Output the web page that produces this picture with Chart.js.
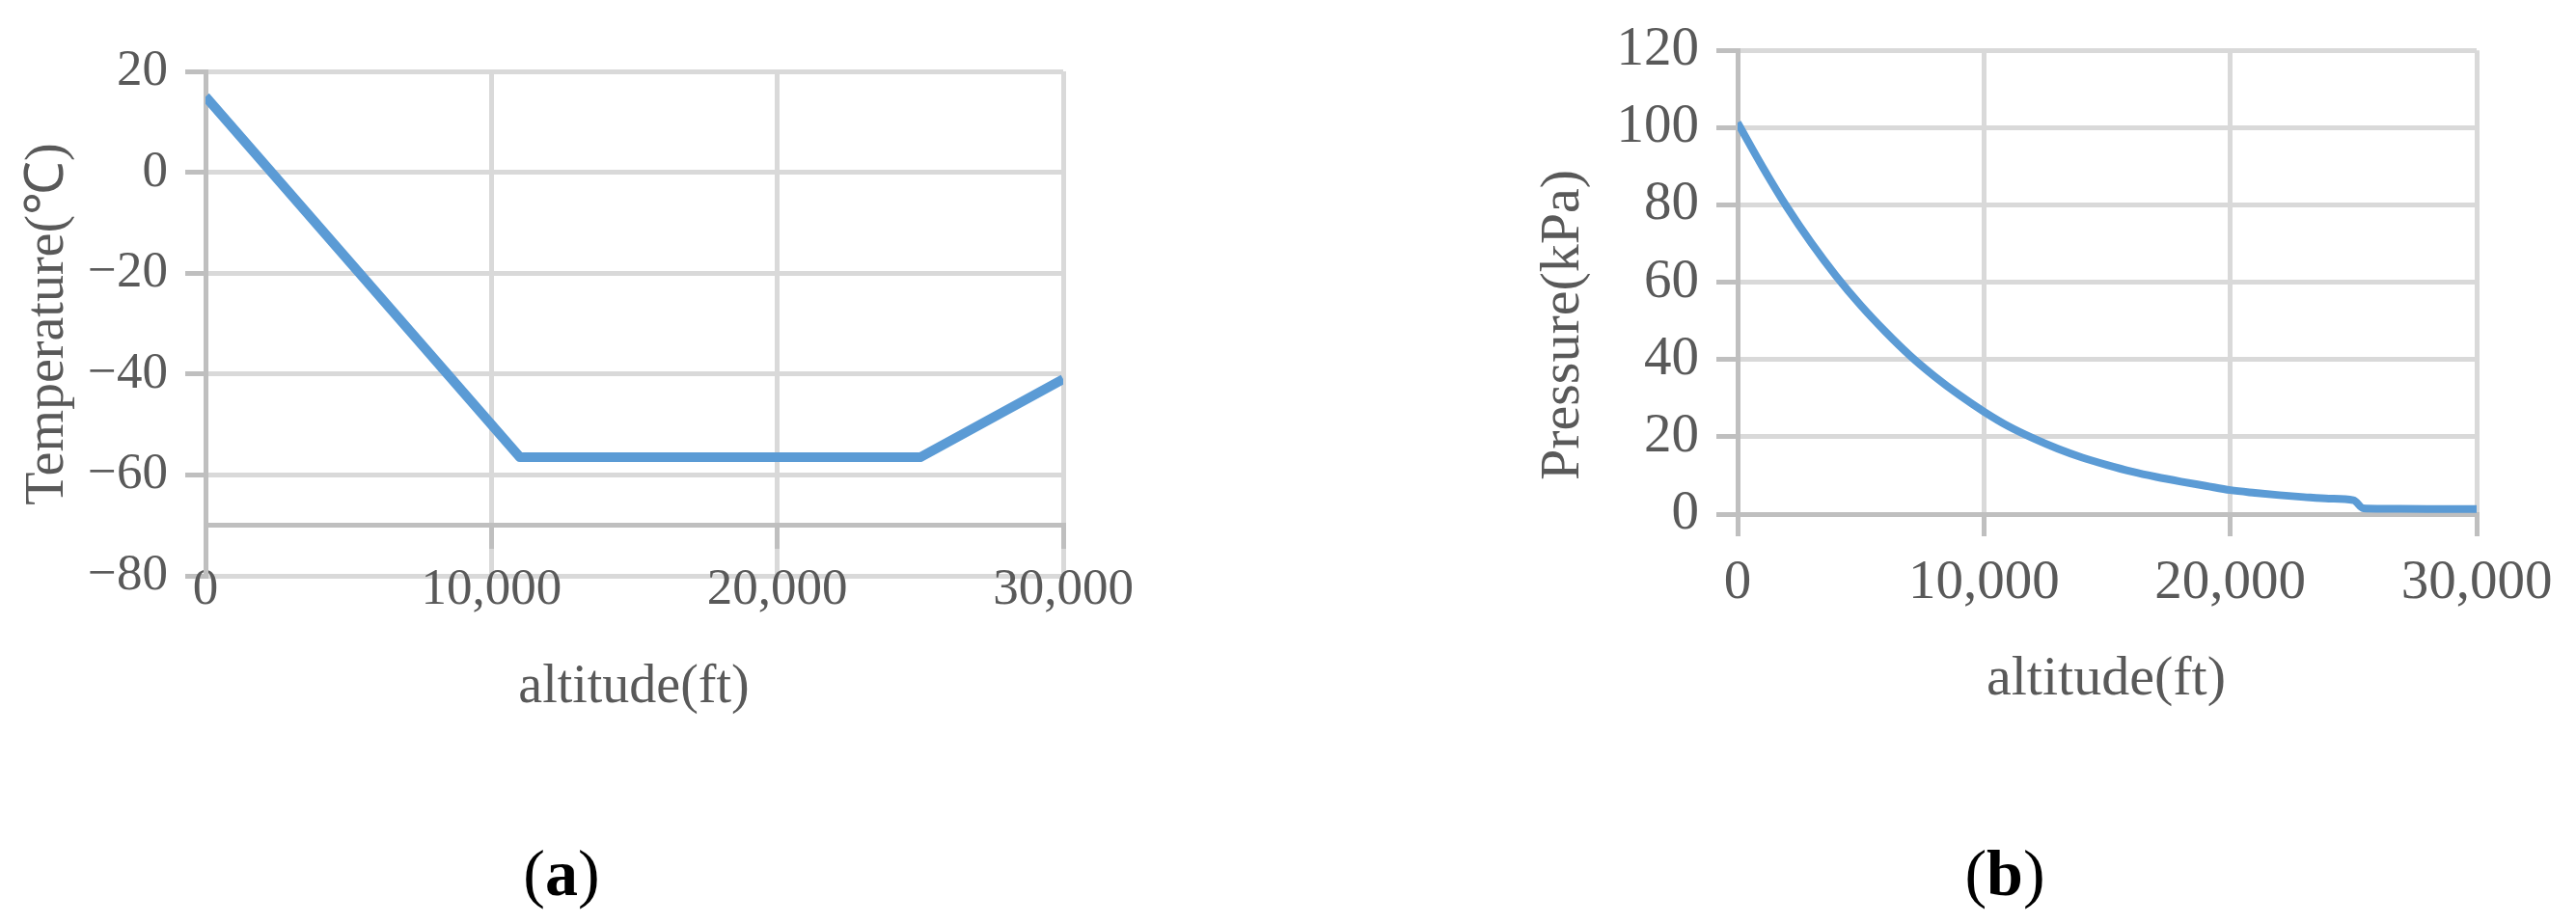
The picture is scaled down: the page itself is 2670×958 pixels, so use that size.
<!DOCTYPE html>
<html>
<head>
<meta charset="utf-8">
<script src="https://cdn.jsdelivr.net/npm/chart.js@4.4.1/dist/chart.umd.min.js"></script>
<style>
  body { margin: 0; background: #fff; width: 2670px; height: 958px; position: relative; overflow: hidden; font-family: 'Liberation Serif', serif; }
  canvas { position: absolute; top: 0; }
  #tempChart { left: 0; }
  #pressChart { left: 1335px; }
  .panel { position: absolute; top: 866px; font-size: 68px; line-height: 78px; color: #000; transform: translateX(-50%); white-space: nowrap; }
</style>
</head>
<body>
<canvas id="tempChart" width="1335" height="958"></canvas>
<canvas id="pressChart" width="1335" height="958"></canvas>
<div class="panel" style="left:582px">(<b>a</b>)</div>
<div class="panel" style="left:2078px">(<b>b</b>)</div>
<script>
// (a) temperature vs altitude
var tempAltitude = [0, 11000, 25000, 30000];
var temperature = [15, -56.5, -56.5, -41];

// (b) pressure vs altitude
var pressAltitude = [0, 1000, 2000, 3000, 4000, 5000, 6000, 7000, 8000, 9000, 10000,
  11000, 12000, 13000, 14000, 15000, 16000, 17000, 18000, 19000, 20000,
  21000, 22000, 23000, 24000, 25000, 25400, 26000, 28000, 30000];
var pressure = [101.3, 90.0, 79.5, 70.1, 61.6, 54.0, 47.2, 41.0, 35.6, 30.8, 26.5,
  22.7, 19.6, 16.9, 14.6, 12.7, 11.0, 9.6, 8.4, 7.3, 6.2,
  5.5, 4.9, 4.4, 4.0, 3.6, 1.5, 1.4, 1.3, 1.3];

// tick labels
var altitudeTicks = [0, 10000, 20000, 30000];
var tempTicks = [-80, -60, -40, -20, 0, 20];
var pressTicks = [0, 20, 40, 60, 80, 100, 120];

var gridColor = '#d9d9d9';
var axisColor = '#bfbfbf';
var textColor = '#595959';
var lineColor = '#5b9bd5';

function toPoints(xs, ys) {
  return xs.map(function(x, i) { return { x: x, y: ys[i] }; });
}

function fmt(v) {
  return v < 0 ? '\u2212' + Math.abs(v) : v.toLocaleString('en-US');
}

function useTicks(list) {
  return function(scale) {
    scale.ticks = list.map(function(v) { return { value: v }; });
  };
}

// draws the axis titles where the original has them
var axisTitles = {
  id: 'axisTitles',
  afterDraw: function(chart, args, opts) {
    var ctx = chart.ctx;
    opts.items.forEach(function(t) {
      ctx.save();
      ctx.translate(t.x, t.y);
      ctx.rotate(t.rotate || 0);
      ctx.font = opts.size + 'px "Liberation Serif"';
      ctx.fillStyle = textColor;
      ctx.textAlign = 'center';
      ctx.textBaseline = 'middle';
      ctx.fillText(t.text, 0, 0);
      ctx.restore();
    });
  }
};

Chart.defaults.font.family = '"Liberation Serif", serif';
Chart.defaults.color = textColor;

// Chart (a)
new Chart(document.getElementById('tempChart').getContext('2d'), {
  type: 'line',
  data: {
    datasets: [{
      data: toPoints(tempAltitude, temperature),
      borderColor: lineColor,
      borderWidth: 10,
      pointRadius: 0,
      tension: 0,
      borderJoinStyle: 'round'
    }]
  },
  options: {
    responsive: false,
    animation: false,
    devicePixelRatio: 1,
    layout: { padding: { left: 0, right: 233, top: 74, bottom: 361 } },
    plugins: {
      legend: { display: false },
      tooltip: { enabled: false },
      axisTitles: {
        size: 56,
        items: [
          { text: 'altitude(ft)', x: 657, y: 713 },
          { text: 'Temperature(\u2103)', x: 50, y: 336, rotate: -Math.PI / 2 }
        ]
      }
    },
    scales: {
      x: {
        type: 'linear',
        position: { y: -70 },
        min: 0,
        max: 30000,
        afterBuildTicks: useTicks(altitudeTicks),
        ticks: { font: { size: 53 }, color: textColor, padding: 14, maxRotation: 0, callback: fmt },
        grid: { color: gridColor, lineWidth: 5, tickColor: axisColor, tickLength: 22 },
        border: { color: axisColor, width: 5 }
      },
      y: {
        min: -80,
        max: 20,
        afterBuildTicks: useTicks(tempTicks),
        afterFit: function(s) { s.width = 213; },
        ticks: { font: { size: 53 }, color: textColor, padding: 18, callback: fmt },
        grid: { color: gridColor, lineWidth: 5, tickColor: axisColor, tickLength: 21 },
        border: { color: axisColor, width: 5 }
      }
    }
  },
  plugins: [axisTitles]
});

// Chart (b)
new Chart(document.getElementById('pressChart').getContext('2d'), {
  type: 'line',
  data: {
    datasets: [{
      data: toPoints(pressAltitude, pressure),
      borderColor: lineColor,
      borderWidth: 8,
      pointRadius: 0,
      cubicInterpolationMode: 'monotone'
    }]
  },
  options: {
    responsive: false,
    animation: false,
    devicePixelRatio: 1,
    layout: { padding: { left: 0, right: 103, top: 41, bottom: 0 } },
    plugins: {
      legend: { display: false },
      tooltip: { enabled: false },
      axisTitles: {
        size: 58,
        items: [
          { text: 'altitude(ft)', x: 848, y: 705 },
          { text: 'Pressure(kPa)', x: 286, y: 337, rotate: -Math.PI / 2 }
        ]
      }
    },
    scales: {
      x: {
        type: 'linear',
        position: 'bottom',
        min: 0,
        max: 30000,
        afterBuildTicks: useTicks(altitudeTicks),
        afterFit: function(s) { s.height = 425; },
        ticks: { font: { size: 57 }, color: textColor, padding: 15, maxRotation: 0, callback: fmt },
        grid: { color: gridColor, lineWidth: 5, tickColor: axisColor, tickLength: 23 },
        border: { color: axisColor, width: 5 }
      },
      y: {
        min: 0,
        max: 120,
        afterBuildTicks: useTicks(pressTicks),
        afterFit: function(s) { s.width = 466; },
        ticks: { font: { size: 57 }, color: textColor, padding: 18, callback: fmt },
        grid: { color: gridColor, lineWidth: 5, tickColor: axisColor, tickLength: 22 },
        border: { color: axisColor, width: 5 }
      }
    }
  },
  plugins: [axisTitles]
});
</script>
</body>
</html>
